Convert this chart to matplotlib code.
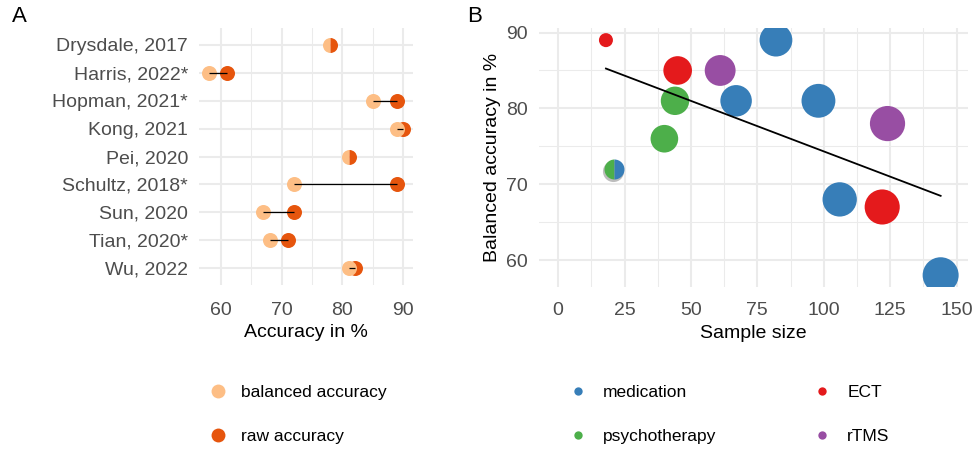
import numpy as np
import matplotlib
matplotlib.use("Agg")
import matplotlib.pyplot as plt
from matplotlib.lines import Line2D
from matplotlib.transforms import offset_copy
from matplotlib.ticker import MultipleLocator, FixedLocator

plt.rcParams['font.family'] = ['Liberation Sans', 'DejaVu Sans']

# ---------------- data: panel A ----------------
studies = ["Drysdale, 2017", "Harris, 2022*", "Hopman, 2021*", "Kong, 2021", "Pei, 2020",
           "Schultz, 2018*", "Sun, 2020", "Tian, 2020*", "Wu, 2022"]
balanced_acc = [78, 58, 85, 89, 81, 72, 67, 68, 81]
raw_acc = [78, 61, 89, 90, 81, 89, 72, 71, 82]

# ---------------- data: panel B ----------------
sample_size = [18, 45, 122, 61, 124, 82, 67, 98, 106, 144, 44, 40, 21]
bal_acc_b = [89, 85, 67, 85, 78, 89, 81, 81, 68, 58, 81, 76, 72]
treatment = ["ECT", "ECT", "ECT", "rTMS", "rTMS", "medication", "medication", "medication",
             "medication", "medication", "psychotherapy", "psychotherapy", "psychotherapy"]
treatment2 = [None, None, None, None, None, None, None, None, None, None, None, None, "medication"]

xticks_a = [60, 70, 80, 90]
xticks_b = [0, 25, 50, 75, 100, 125, 150]
yticks_b = [60, 70, 80, 90]

# ---------------- style ----------------
LIGHT = "#FDBE85"
DARK = "#E6550D"
TCOL = {"medication": "#377EB8", "psychotherapy": "#4DAF4A", "ECT": "#E41A1C", "rTMS": "#984EA3"}
GRID = "#EBEBEB"
TICKCOL = "#4D4D4D"
FS_TICK = 14
FS_TITLE = 14
FS_LEG = 12.5

W, H = 973, 449
fig = plt.figure(figsize=(W / 100, H / 100), dpi=100)


def px_axes(l, t, r, b):
    return fig.add_axes([l / W, 1 - b / H, (r - l) / W, (b - t) / H])


def style_axes(ax):
    for s in ax.spines.values():
        s.set_visible(False)
    ax.tick_params(which="both", length=0, labelsize=FS_TICK, labelcolor=TICKCOL, pad=8)
    ax.grid(which="major", color=GRID, lw=1.5)
    ax.grid(which="minor", color=GRID, lw=0.75)
    ax.set_axisbelow(True)


# ---------------- panel A ----------------
axA = px_axes(199, 28, 413, 285)
style_axes(axA)
ypos = np.arange(len(studies))
bal = np.array(balanced_acc, dtype=float)
raw = np.array(raw_acc, dtype=float)
eq = bal == raw
ms_a = 10.8
axA.plot(raw[~eq], ypos[~eq], "o", ms=ms_a, color=DARK, mec="none", zorder=3)
axA.plot(bal[~eq], ypos[~eq], "o", ms=ms_a, color=LIGHT, mec="none", zorder=4)
axA.plot(bal[eq], ypos[eq], "o", ms=ms_a, fillstyle="left", markerfacecolor=LIGHT,
         markerfacecoloralt=DARK, mec="none", zorder=4)
axA.hlines(ypos[~eq], bal[~eq], raw[~eq], color="black", lw=0.9, zorder=5)
axA.set_yticks(ypos)
axA.set_yticklabels(studies)
axA.set_ylim(len(studies) - 0.4, -0.6)
axA.set_xlim(56.4, 91.6)
axA.xaxis.set_major_locator(FixedLocator(xticks_a))
axA.xaxis.set_minor_locator(MultipleLocator(5))
axA.tick_params(axis="x", pad=12)
axA.set_xlabel("Accuracy in %", fontsize=FS_TITLE, labelpad=3.5)

# ---------------- panel B ----------------
axB = px_axes(539, 28, 968, 287)
style_axes(axB)
n = np.array(sample_size, dtype=float)
y = np.array(bal_acc_b, dtype=float)
ln = np.log(n)
rel = (ln - ln.min()) / (ln.max() - ln.min())
diam_px = 14 + 22 * np.sqrt(rel)
sizes = (diam_px * 0.72) ** 2
single = np.array([t2 is None for t2 in treatment2])
cols = [TCOL[t] for t in treatment]
order = np.argsort(-n)
for i in order:
    if single[i]:
        axB.scatter(n[i], y[i], s=sizes[i], color=cols[i], edgecolors="none", zorder=3)
    else:
        shadow = offset_copy(axB.transData, fig=fig, x=-0.5, y=-2.0, units="dots")
        axB.plot(n[i], y[i], "o", ms=diam_px[i] * 0.72 + 0.8, color="#BDBDBD", mec="none",
                 transform=shadow, zorder=2.9)
        axB.plot(n[i], y[i], "o", ms=diam_px[i] * 0.72, fillstyle="left",
                 markerfacecolor=TCOL[treatment[i]], markerfacecoloralt=TCOL[treatment2[i]],
                 mec="none", zorder=3)

slope, intercept = np.polyfit(n, y, 1)
xs = np.array([n.min(), n.max()])
axB.plot(xs, intercept + slope * xs, color="black", lw=1.3, zorder=5)

axB.set_xlim(-7.2, 154.3)
axB.set_ylim(56.45, 90.6)
axB.xaxis.set_major_locator(FixedLocator(xticks_b))
axB.xaxis.set_minor_locator(MultipleLocator(12.5))
axB.yaxis.set_major_locator(FixedLocator(yticks_b))
axB.yaxis.set_minor_locator(MultipleLocator(5))
axB.tick_params(axis="x", pad=11)
axB.set_xlabel("Sample size", fontsize=FS_TITLE, labelpad=4)
axB.set_ylabel("Balanced accuracy in %", fontsize=FS_TITLE, labelpad=4)

# ---------------- panel labels ----------------
fig.text(12 / W, 1 - 16 / H, "A", fontsize=16, va="center", ha="left")
fig.text(467 / W, 1 - 16 / H, "B", fontsize=16, va="center", ha="left")

# ---------------- legends ----------------
hA = [Line2D([], [], ls="none", marker="o", ms=10, color=LIGHT, mec="none"),
      Line2D([], [], ls="none", marker="o", ms=10, color=DARK, mec="none")]
fig.legend(hA, ["balanced accuracy", "raw accuracy"], loc="upper left",
           bbox_to_anchor=(209 / W, 1 - 385 / H), frameon=False, fontsize=FS_LEG,
           handlelength=1.0, handletextpad=0.85, labelspacing=1.65, borderpad=0, borderaxespad=0)

cats = ["medication", "psychotherapy", "ECT", "rTMS"]
hB = [Line2D([], [], ls="none", marker="o", ms=6, color=TCOL[c], mec="none") for c in cats]
fig.legend(hB, cats, loc="upper left", ncol=2,
           bbox_to_anchor=(569 / W, 1 - 385 / H), frameon=False, fontsize=FS_LEG,
           handlelength=1.0, handletextpad=0.95, labelspacing=1.65, columnspacing=5.6,
           borderpad=0, borderaxespad=0)

fig.savefig("out.png", dpi=100)
